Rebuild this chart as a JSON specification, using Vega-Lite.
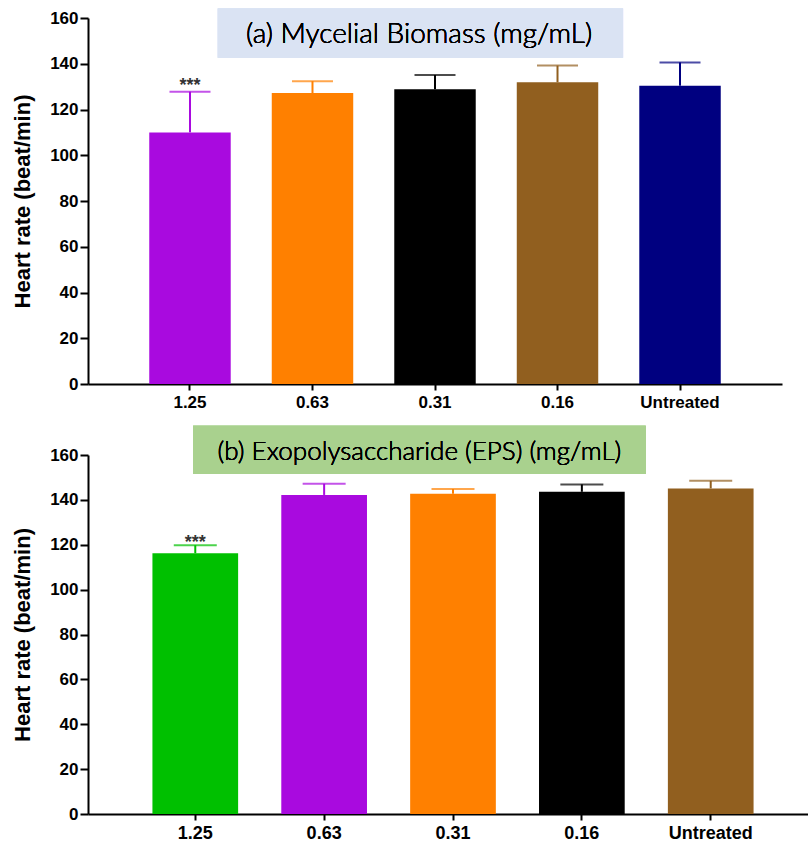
{
  "$schema": "https://vega.github.io/schema/vega-lite/v6.json",
  "padding": {"top": 8, "left": 11, "right": 0, "bottom": 0},
  "background": "white",
  "spacing": 15,
  "datasets": {
    "biomass": [
      {"conc": "1.25", "mean": 110.0, "upper": 127.8, "sig": "***"},
      {"conc": "0.63", "mean": 127.2, "upper": 132.4, "sig": ""},
      {"conc": "0.31", "mean": 128.8, "upper": 135.1, "sig": ""},
      {"conc": "0.16", "mean": 131.9, "upper": 139.2, "sig": ""},
      {"conc": "Untreated", "mean": 130.4, "upper": 140.6, "sig": ""}
    ],
    "eps": [
      {"conc": "1.25", "mean": 116.2, "upper": 119.8, "sig": "***"},
      {"conc": "0.63", "mean": 142.2, "upper": 147.2, "sig": ""},
      {"conc": "0.31", "mean": 142.7, "upper": 144.8, "sig": ""},
      {"conc": "0.16", "mean": 143.6, "upper": 146.9, "sig": ""},
      {"conc": "Untreated", "mean": 145.1, "upper": 148.5, "sig": ""}
    ]
  },
  "config": {
    "view": {"stroke": null},
    "axis": {
      "domainColor": "black", "domainWidth": 2, "tickColor": "black", "tickWidth": 2,
      "grid": false, "labelFont": "Liberation Sans", "labelFontWeight": "bold", "labelColor": "black",
      "titleFont": "Liberation Sans", "titleFontWeight": "bold", "titleColor": "black"
    }
  },
  "resolve": {"scale": {"color": "independent"}},
  "vconcat": [
    {
      "width": 694,
      "height": 366,
      "data": {"name": "biomass"},
      "layer": [
        {
          "encoding": {
            "x": {"field": "conc", "type": "nominal", "sort": null,
                  "scale": {"paddingInner": 0.335, "paddingOuter": 0.5},
                  "axis": {"title": null, "labelAngle": 0, "tickSize": 6, "labelPadding": 4, "labelFontSize": 17}},
            "y": {"field": "mean", "type": "quantitative", "scale": {"domain": [0, 160]},
                  "axis": {"values": [0, 20, 40, 60, 80, 100, 120, 140, 160], "tickSize": 8, "labelPadding": 2,
                           "labelFontSize": 17, "title": "Heart rate (beat/min)", "titleFontSize": 22, "titlePadding": 15}},
            "color": {"field": "conc", "type": "nominal", "legend": null,
                      "scale": {"domain": ["1.25", "0.63", "0.31", "0.16", "Untreated"],
                                "range": ["#A90ADF", "#FF8000", "#000000", "#915F1F", "#000080"]}}
          },
          "layer": [
            {"mark": {"type": "rule", "strokeWidth": 2}, "encoding": {"y2": {"field": "upper"}}},
            {"mark": {"type": "tick", "orient": "horizontal", "size": 41, "thickness": 2}, "encoding": {"y": {"field": "upper", "type": "quantitative"}}},
            {"mark": {"type": "bar"}},
            {"mark": {"type": "text", "fontSize": 18, "fontWeight": "bold", "font": "Liberation Sans", "baseline": "alphabetic", "dy": -1},
             "encoding": {"y": {"field": "upper", "type": "quantitative"}, "text": {"field": "sig"}, "color": {"value": "#333333"}}}
          ]
        },
        {
          "layer": [
            {"mark": {"type": "rect", "color": "#DAE3F3"},
             "encoding": {
               "x": {"datum": 18.7, "type": "quantitative", "scale": {"domain": [0, 100]}, "axis": null},
               "x2": {"datum": 77.1},
               "y": {"datum": 164.1, "type": "quantitative"},
               "y2": {"datum": 142.6}
             }},
            {"mark": {"type": "text", "font": "Lato", "fontSize": 28, "fontWeight": 300, "color": "black", "baseline": "middle", "align": "center"},
             "encoding": {
               "x": {"datum": 47.7, "type": "quantitative", "scale": {"domain": [0, 100]}, "axis": null},
               "y": {"datum": 152.5, "type": "quantitative"},
               "text": {"value": "(a) Mycelial Biomass (mg/mL)"}
             }}
          ]
        }
      ],
      "resolve": {"scale": {"x": "independent"}}
    },
    {
      "width": 730,
      "height": 359,
      "data": {"name": "eps"},
      "layer": [
        {
          "encoding": {
            "x": {"field": "conc", "type": "nominal", "sort": null,
                  "scale": {"paddingInner": 0.335, "paddingOuter": 0.5},
                  "axis": {"title": null, "labelAngle": 0, "tickSize": 6, "labelPadding": 4, "labelFontSize": 18}},
            "y": {"field": "mean", "type": "quantitative", "scale": {"domain": [0, 160]},
                  "axis": {"values": [0, 20, 40, 60, 80, 100, 120, 140, 160], "tickSize": 8, "labelPadding": 2,
                           "labelFontSize": 17, "title": "Heart rate (beat/min)", "titleFontSize": 22, "titlePadding": 15}},
            "color": {"field": "conc", "type": "nominal", "legend": null,
                      "scale": {"domain": ["1.25", "0.63", "0.31", "0.16", "Untreated"],
                                "range": ["#00C000", "#A90ADF", "#FF8000", "#000000", "#915F1F"]}}
          },
          "layer": [
            {"mark": {"type": "rule", "strokeWidth": 2}, "encoding": {"y2": {"field": "upper"}}},
            {"mark": {"type": "tick", "orient": "horizontal", "size": 43, "thickness": 2}, "encoding": {"y": {"field": "upper", "type": "quantitative"}}},
            {"mark": {"type": "bar"}},
            {"mark": {"type": "text", "fontSize": 18, "fontWeight": "bold", "font": "Liberation Sans", "baseline": "alphabetic", "dy": 3},
             "encoding": {"y": {"field": "upper", "type": "quantitative"}, "text": {"field": "sig"}, "color": {"value": "#333333"}}}
          ]
        },
        {
          "layer": [
            {"mark": {"type": "rect", "color": "#A9D18E"},
             "encoding": {
               "x": {"datum": 14.4, "type": "quantitative", "scale": {"domain": [0, 100]}, "axis": null},
               "x2": {"datum": 76.4},
               "y": {"datum": 173.0, "type": "quantitative"},
               "y2": {"datum": 151.5}
             }},
            {"mark": {"type": "text", "font": "Lato", "fontSize": 26, "fontWeight": 300, "color": "black", "baseline": "middle", "align": "center"},
             "encoding": {
               "x": {"datum": 45.4, "type": "quantitative", "scale": {"domain": [0, 100]}, "axis": null},
               "y": {"datum": 161.3, "type": "quantitative"},
               "text": {"value": "(b) Exopolysaccharide (EPS) (mg/mL)"}
             }}
          ]
        }
      ],
      "resolve": {"scale": {"x": "independent"}}
    }
  ]
}
